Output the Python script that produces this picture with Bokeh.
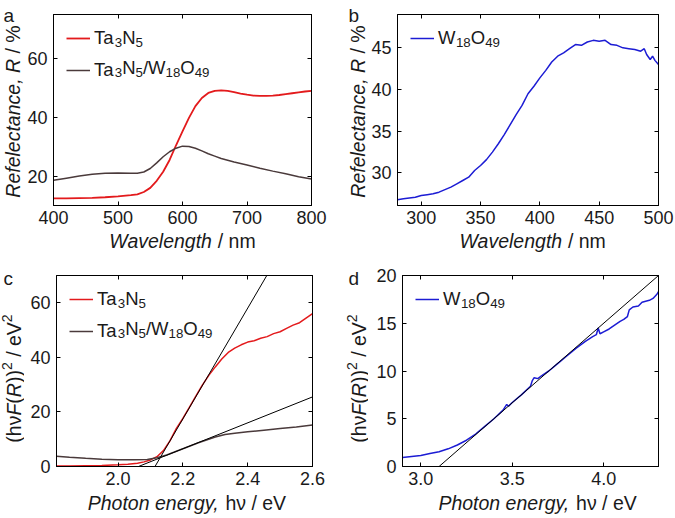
import math
from bokeh.plotting import figure
from bokeh.models import (Range1d, FixedTicker, LinearAxis, Label, Legend,
                          LegendItem, PrintfTickFormatter)
from bokeh.layouts import column, row
from bokeh.embed import file_html
from bokeh.resources import INLINE

FONT = "Liberation Sans"
TXT = "#1a1a1a"
RED = "#e31a1c"
DARK = "#4a3a3b"
BLUE = "#1c1cd4"

# ---------------- panel a : reflectance vs wavelength ----------------
wl_a = [400, 420, 440, 460, 480, 500, 520, 530, 540, 550, 560, 570, 580, 590,
        600, 610, 620, 630, 640, 650, 660, 670, 680, 690, 700, 710, 720, 730,
        740, 750, 760, 770, 780, 790, 800]
R_ta3n5 = [12.4, 12.4, 12.5, 12.6, 12.8, 13.1, 13.5, 13.8, 14.6, 16.0, 18.4,
           21.5, 25.5, 30.5, 35.2, 39.8, 43.8, 46.6, 48.3, 49.0, 49.2, 49.0,
           48.6, 48.1, 47.7, 47.4, 47.3, 47.3, 47.4, 47.6, 47.9, 48.2, 48.5,
           48.8, 49.0]
wl_a2 = [400, 420, 440, 460, 480, 500, 520, 530, 540, 550, 560, 570, 580, 590,
         600, 610, 620, 630, 640, 650, 660, 680, 700, 720, 740, 760, 780, 800]
R_ta3n5_w = [18.6, 19.3, 20.0, 20.6, 21.0, 21.1, 21.0, 21.0, 21.4, 22.6, 24.5,
             26.6, 28.3, 29.5, 30.2, 30.1, 29.5, 28.6, 27.6, 26.8, 26.0, 24.8,
             23.8, 22.7, 21.7, 20.8, 19.8, 19.0]

# ---------------- panel b : W18O49 reflectance ----------------
wl_b = [280, 285, 290, 295, 300, 305, 310, 315, 320, 325, 330, 335, 340, 345,
        350, 355, 360, 365, 370, 375, 380, 385, 390, 395, 400, 405, 410, 415,
        420, 425, 430, 435, 440, 445, 450, 455, 460, 465, 470, 475, 480, 485,
        488, 490, 493, 495, 497, 500]
R_w18o49 = [26.8, 26.9, 27.0, 27.1, 27.3, 27.4, 27.5, 27.7, 28.0, 28.3, 28.7,
            29.1, 29.5, 30.3, 30.9, 31.6, 32.5, 33.5, 34.6, 35.8, 37.0, 38.1,
            39.5, 40.4, 41.4, 42.3, 43.3, 44.0, 44.4, 44.9, 45.4, 45.3, 45.7,
            45.9, 45.8, 45.9, 45.4, 45.3, 45.0, 44.9, 44.8, 44.6, 44.9, 44.2,
            43.6, 44.0, 43.5, 43.0]

# ---------------- panel c : Tauc plot Ta3N5 ----------------
E_c1 = [1.81, 1.85, 1.90, 1.95, 2.00, 2.03, 2.06, 2.08, 2.10, 2.12, 2.14, 2.16,
        2.18, 2.20, 2.22, 2.24, 2.26, 2.28, 2.30, 2.32, 2.34, 2.36, 2.38, 2.40,
        2.42, 2.44, 2.46, 2.48, 2.50, 2.52, 2.54, 2.56, 2.58, 2.60]
T_ta3n5 = [0.2, 0.2, 0.3, 0.4, 0.6, 0.8, 1.2, 1.7, 2.4, 3.6, 5.8, 9.4, 14.0,
           17.6, 21.7, 25.8, 29.8, 33.4, 36.5, 39.4, 41.8, 43.4, 44.6, 45.6,
           46.1, 47.0, 47.6, 48.7, 49.4, 50.6, 51.8, 52.7, 54.4, 56.0]
E_c2 = [1.81, 1.85, 1.90, 1.95, 2.00, 2.05, 2.09, 2.12, 2.15, 2.20, 2.25, 2.30,
        2.33, 2.36, 2.40, 2.45, 2.50, 2.55, 2.60]
T_ta3n5_w = [3.8, 3.4, 3.0, 2.7, 2.5, 2.5, 2.6, 3.2, 4.2, 6.5, 8.8, 10.8, 11.7,
             12.2, 12.7, 13.3, 13.9, 14.5, 15.2]
fit_c1_x = [2.114, 2.459]
fit_c1_y = [0, 70]
fit_c2_x = [2.063, 2.60]
fit_c2_y = [0, 25.5]

# ---------------- panel d : Tauc plot W18O49 ----------------
E_d = [2.90, 2.95, 3.00, 3.05, 3.10, 3.15, 3.20, 3.25, 3.30, 3.35, 3.40, 3.45,
       3.47, 3.48, 3.50, 3.55, 3.60, 3.61, 3.62, 3.64, 3.66, 3.70, 3.75, 3.80,
       3.85, 3.90, 3.94, 3.96, 3.97, 3.98, 4.00, 4.03, 4.06, 4.09, 4.11, 4.13,
       4.14, 4.16, 4.19, 4.21, 4.23, 4.25, 4.27, 4.29, 4.30]
T_w18o49 = [0.95, 1.05, 1.15, 1.35, 1.55, 1.85, 2.25, 2.75, 3.4, 4.2, 5.0, 5.9,
            6.5, 6.3, 6.7, 7.5, 8.4, 9.0, 9.3, 9.2, 9.5, 10.0, 10.8, 11.6, 12.4,
            13.1, 13.6, 13.8, 14.5, 13.9, 14.1, 14.4, 14.8, 15.2, 15.4, 15.7,
            16.4, 16.7, 16.8, 17.2, 17.3, 17.4, 17.6, 18.0, 18.3]
fit_d_x = [3.10, 4.30]
fit_d_y = [0, 20]

# ---------------- helpers ----------------
AW = {' ': 278, '(': 333, ')': 333, '/': 278, '%': 889, ',': 278, '.': 278,
      'R': 722, 'W': 944, 'P': 667, 'V': 667, 'F': 611, 'T': 611, 'N': 722,
      'O': 778, 'ν': 500,
      'a': 556, 'c': 500, 'e': 556, 'f': 278, 'g': 556, 'h': 556, 'l': 222,
      'm': 833, 'n': 556, 'o': 556, 'r': 333, 't': 278, 'v': 500, 'y': 500}
KERN = {"Ta": -74}
LSIZE = 19.5
LEG = 18.5


def tw(s, size):
    return (sum(AW.get(ch, 556) for ch in s) + KERN.get(s, 0)) * size / 1000.0


def compose(p, x, y, parts, angle=0.0, size=LSIZE, align="center", dx=0, dy=0):
    """Mixed-style text built from pieces, placed at (x, y) with pixel offsets."""
    widths = [tw(t, size * sc) for t, st, sc, rise in parts]
    pos = -sum(widths) / 2.0 if align == "center" else 0.0
    for (t, st, sc, rise), w in zip(parts, widths):
        core = t.strip(" ")
        lead = tw(" " * (len(t) - len(t.lstrip(" "))), size * sc)
        a = pos + lead
        if angle == 0:
            xo, yo = dx + a, dy + rise
        else:
            xo, yo = dx - rise, dy + a
        p.add_layout(Label(x=x, y=y, x_offset=xo, y_offset=yo, text=core,
                           angle=angle, text_align="left",
                           text_baseline="middle", text_font=FONT,
                           text_font_style=st,
                           text_font_size=f"{size * sc:.1f}px",
                           text_color=TXT))
        pos += w


def strip(w, h):
    s = figure(width=w, height=h, x_range=Range1d(0, w), y_range=Range1d(0, h),
               output_backend="svg", toolbar_location=None,
               x_axis_location=None, y_axis_location=None, min_border=0)
    s.xgrid.visible = False
    s.ygrid.visible = False
    s.outline_line_color = None
    return s


def letter(s, x, y, t):
    s.add_layout(Label(x=x, y=y, text=t, text_font=FONT,
                       text_font_size="19px", text_color=TXT,
                       text_baseline="alphabetic", text_align="left"))


def make_fig(w, h, xr, yr, xt, yt, b, xfmt=None):
    p = figure(width=w, height=h, x_range=Range1d(*xr), y_range=Range1d(*yr),
               output_backend="svg", toolbar_location=None,
               min_border_left=b[0], min_border_right=b[1],
               min_border_top=b[2], min_border_bottom=b[3])
    p.xgrid.visible = False
    p.ygrid.visible = False
    p.outline_line_color = "black"
    p.outline_line_width = 1
    p.xaxis.ticker = FixedTicker(ticks=xt)
    p.yaxis.ticker = FixedTicker(ticks=yt)
    if xfmt:
        p.xaxis.formatter = PrintfTickFormatter(format=xfmt)
    for ax in p.xaxis + p.yaxis:
        ax.major_tick_in = 4
        ax.major_tick_out = 0
        ax.minor_tick_line_color = None
        ax.axis_line_color = "black"
        ax.major_tick_line_color = "black"
        ax.major_label_text_font = FONT
        ax.major_label_text_font_size = "18px"
        ax.major_label_text_color = TXT
    p.xaxis.major_label_standoff = 5
    p.yaxis.major_label_standoff = 6
    for place, tk in (("above", xt), ("right", yt)):
        ax = LinearAxis(ticker=FixedTicker(ticks=tk), major_tick_in=4,
                        major_tick_out=0, minor_tick_line_color=None,
                        major_label_text_font_size="0px",
                        major_label_text_color=None,
                        major_label_standoff=0, axis_line_color="black")
        p.add_layout(ax, place)
    return p


def legend(p, items, x0, y1):
    """Bokeh legend draws the sample line and the first text piece;
    the sub-scripted remainder is composed right after it."""
    lg = Legend(items=[LegendItem(label=parts[0][0], renderers=[r])
                       for parts, r in items],
                location="top_left", border_line_color=None,
                background_fill_alpha=0, label_text_font=FONT,
                label_text_font_size=f"{LEG}px", label_text_color=TXT,
                label_text_baseline="middle",
                glyph_width=24, glyph_height=20, label_height=20, spacing=10,
                padding=0, margin=13, label_standoff=4)
    p.add_layout(lg)
    for i, (parts, r) in enumerate(items):
        compose(p, x0, y1, parts[1:], size=LEG, align="left",
                dx=41 + tw(parts[0][0], LEG), dy=-(23 + 30 * i))


SUB = 0.72
TA = [("Ta", "normal", 1, 0), ("3", "normal", SUB, -5), ("N", "normal", 1, 0),
      ("5", "normal", SUB, -5)]
WO = [("W", "normal", 1, 0), ("18", "normal", SUB, -5), ("O", "normal", 1, 0),
      ("49", "normal", SUB, -5)]
TAWO = TA + [("/", "normal", 1, 0)] + WO

WL = [("Wavelength", "italic", 1, 0), (" / nm", "normal", 1, 0)]
RL = [("Refelectance, R", "italic", 1, 0), (" / %", "normal", 1, 0)]
PE = [("Photon energy,", "italic", 1, 0), (" hν / eV", "normal", 1, 0)]
KM = [("(hν", "normal", 1, 0), ("F", "italic", 1, 0), ("(", "normal", 1, 0),
      ("R", "italic", 1, 0), ("))", "normal", 1, 0), ("2", "normal", 0.72, 7),
      (" / eV", "normal", 1, 0), ("2", "normal", 0.72, 7)]

# ---------------- panel a ----------------
pa = make_fig(314, 230, (400, 800), (10, 75), [400, 500, 600, 700, 800],
              [20, 40, 60], (26, 27, 14, 25))
ra1 = pa.line(wl_a, R_ta3n5, color=RED, line_width=1.8)
ra2 = pa.line(wl_a2, R_ta3n5_w, color=DARK, line_width=1.5)
legend(pa, [(TA, ra1), (TAWO, ra2)], 400, 75)
xla = strip(314, 24)
compose(xla, 157, 14, WL)
yla = strip(24, 254)
compose(yla, 12, 143, RL, angle=math.pi / 2)
letter(yla, 3, 239, "a")

# ---------------- panel b ----------------
pb = make_fig(307, 230, (280, 500), (26.1, 49), [300, 350, 400, 450, 500],
              [30, 35, 40, 45], (28, 17, 14, 25))
rb = pb.line(wl_b, R_w18o49, color=BLUE, line_width=1.5)
legend(pb, [(WO, rb)], 280, 49)
xlb = strip(307, 24)
compose(xlb, 159, 14, WL)
ylb = strip(30, 254)
compose(ylb, 19, 143, RL, angle=math.pi / 2)
letter(ylb, 10, 239, "b")

# ---------------- panel c ----------------
pc = make_fig(314, 237, (1.81, 2.6), (0, 70), [2.0, 2.2, 2.4, 2.6],
              [0, 20, 40, 60], (32, 26, 21, 25), xfmt="%.1f")
rc1 = pc.line(E_c1, T_ta3n5, color=RED, line_width=1.5)
rc2 = pc.line(E_c2, T_ta3n5_w, color=DARK, line_width=1.5)
pc.line(fit_c1_x, fit_c1_y, color="black", line_width=1)
pc.line(fit_c2_x, fit_c2_y, color="black", line_width=1)
legend(pc, [(TA, rc1), (TAWO, rc2)], 1.81, 70)
xlc = strip(314, 27)
compose(xlc, 160, 16, PE)
ylc = strip(24, 264)
compose(ylc, 13, 140, KM, angle=math.pi / 2)
letter(ylc, 3, 240, "c")

# ---------------- panel d ----------------
pd = make_fig(307, 237, (2.9, 4.3), (0, 20), [3.0, 3.5, 4.0],
              [0, 5, 10, 15, 20], (34, 17, 21, 25), xfmt="%.1f")
rd = pd.line(E_d, T_w18o49, color=BLUE, line_width=1.5)
pd.line(fit_d_x, fit_d_y, color="black", line_width=1)
legend(pd, [(WO, rd)], 2.9, 20)
xld = strip(307, 27)
compose(xld, 162, 16, PE)
yld = strip(30, 264)
compose(yld, 20, 140, KM, angle=math.pi / 2)
letter(yld, 10, 240, "d")

layout = column(
    row(row(yla, column(pa, xla)), row(ylb, column(pb, xlb))),
    row(row(ylc, column(pc, xlc)), row(yld, column(pd, xld))),
)
open("out.html", "w").write(file_html(layout, INLINE))
